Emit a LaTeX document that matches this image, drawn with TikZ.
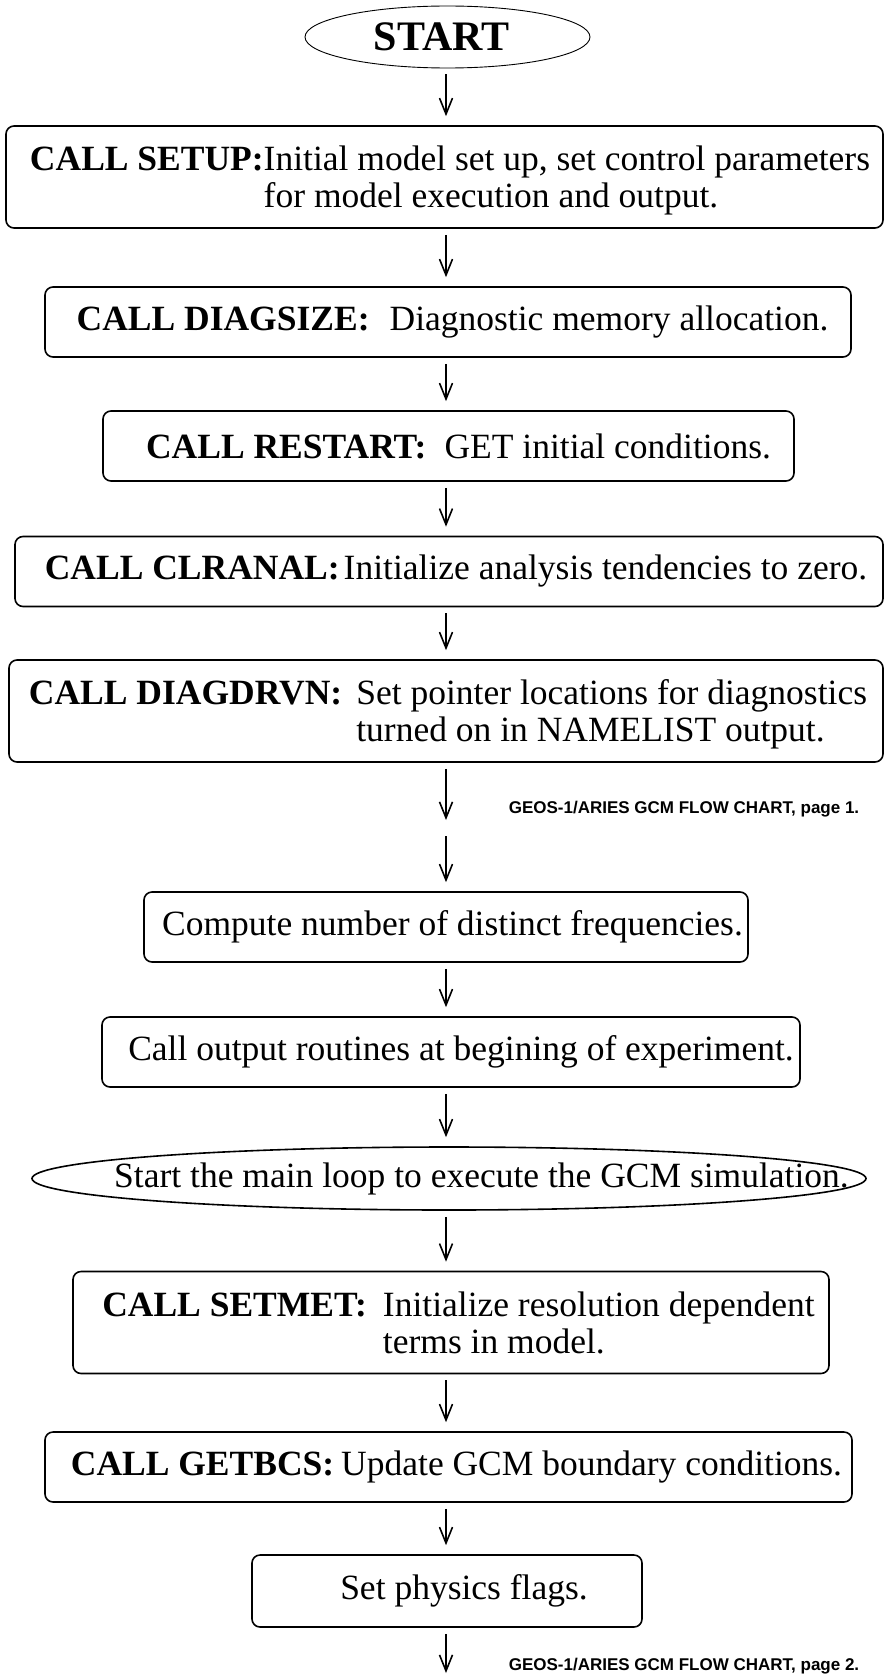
\documentclass[tikz,border=0pt]{standalone}
\usepackage{fontspec}
\setmainfont{Liberation Serif}
\newfontfamily\chartfont{Liberation Sans}
\usetikzlibrary{arrows.meta,shapes.geometric}

\tikzset{
    stepbox/.style={draw, line width=1.6pt, rounded corners=8pt, inner sep=0pt, minimum height=70pt},
    twoline/.style={minimum height=102pt, text depth=39pt},
    flow/.style={line width=1.6pt, -{Straight Barb[length=16pt,width=13pt,line width=1.6pt]}, shorten <=6pt, shorten >=9pt},
    pagenote/.style={font=\chartfont\bfseries\fontsize{17}{19}\selectfont, inner sep=0pt}
}
\newcommand{\boxtext}[2]{\makebox[0pt]{\hspace*{#1}#2}}

\begin{document}
\begin{tikzpicture}[x=1pt, y=-1pt, font=\fontsize{35.5}{37.4}\selectfont]
    \useasboundingbox (0,0) rectangle (886,1675);
    %Define the spine the arrows run on
    \coordinate (spine) at (446,0);

    % Add the start oval
    \node[draw, ellipse, line width=0.9pt, minimum width=285pt, minimum height=62pt, inner sep=0pt] (start) at (447.5,37) {\boxtext{-12pt}{\fontsize{42}{42}\selectfont\bfseries START}};

    % Add the first page of calls
    \node[stepbox, twoline, minimum width=877pt] (setup) at (444.5,177) {\boxtext{11pt}{\textbf{CALL SETUP:}\begin{tabular}[t]{@{}l@{}}Initial model set up, set control parameters\\for model execution and output.\end{tabular}}};
    \node[stepbox, minimum width=806pt] (diagsize) at (448,322) {\boxtext{9pt}{\textbf{CALL DIAGSIZE:}\hspace{20pt}Diagnostic memory allocation.}};
    \node[stepbox, minimum width=691pt] (restart) at (448.5,446) {\boxtext{20pt}{\textbf{CALL RESTART:}\hspace{18pt}GET initial conditions.}};
    \node[stepbox, minimum width=868pt] (clranal) at (449,571.5) {\boxtext{14pt}{\textbf{CALL CLRANAL:}\hspace{4pt}Initialize analysis tendencies to zero.}};
    \node[stepbox, twoline, minimum width=874pt] (diagdrvn) at (446,711) {\boxtext{4pt}{\textbf{CALL DIAGDRVN:}\hspace{14pt}\begin{tabular}[t]{@{}l@{}}Set pointer locations for diagnostics\\turned on in NAMELIST output.\end{tabular}}};

    % Add the page break
    \coordinate (brk1) at (446,820);
    \coordinate (brk2) at (446,836);
    \node[pagenote] (pagea) at (684,809) {GEOS-1/ARIES GCM FLOW CHART, page 1.};

    % Add the second page of steps
    \node[stepbox, minimum width=604pt] (compute) at (446,927) {\boxtext{13pt}{Compute number of distinct frequencies.}};
    \node[stepbox, minimum width=698pt] (output) at (451,1052) {\boxtext{20pt}{Call output routines at begining of experiment.}};
    \node[draw, ellipse, line width=1.6pt, minimum width=834pt, minimum height=63pt, inner sep=0pt] (loop) at (449,1178.5) {\boxtext{65pt}{Start the main loop to execute the GCM simulation.}};
    \node[stepbox, twoline, minimum width=756pt] (setmet) at (451,1322.5) {\boxtext{15pt}{\textbf{CALL SETMET:}\hspace{16pt}\begin{tabular}[t]{@{}l@{}}Initialize resolution dependent\\terms in model.\end{tabular}}};
    \node[stepbox, minimum width=807pt] (getbcs) at (448.5,1467) {\boxtext{16pt}{\textbf{CALL GETBCS:}\hspace{7pt}Update GCM boundary conditions.}};
    \node[stepbox, minimum width=390pt, minimum height=72pt] (physics) at (447,1591) {\boxtext{34pt}{Set physics flags.}};

    % Add the end of page two
    \coordinate (bottom) at (446,1673);
    \node[pagenote] (pageb) at (684,1666) {GEOS-1/ARIES GCM FLOW CHART, page 2.};

    % Add the arrows between the steps
    \draw[flow] (start.south -| spine) -- (setup.north -| spine);
    \draw[flow] (setup.south -| spine) -- (diagsize.north -| spine);
    \draw[flow] (diagsize.south -| spine) -- (restart.north -| spine);
    \draw[flow] (restart.south -| spine) -- (clranal.north -| spine);
    \draw[flow] (clranal.south -| spine) -- (diagdrvn.north -| spine);
    \draw[flow, shorten >=0pt] (diagdrvn.south -| spine) -- (brk1);
    \draw[flow, shorten <=0pt] (brk2) -- (compute.north -| spine);
    \draw[flow] (compute.south -| spine) -- (output.north -| spine);
    \draw[flow] (output.south -| spine) -- (loop.north -| spine);
    \draw[flow] (loop.south -| spine) -- (setmet.north -| spine);
    \draw[flow] (setmet.south -| spine) -- (getbcs.north -| spine);
    \draw[flow] (getbcs.south -| spine) -- (physics.north -| spine);
    \draw[flow, shorten >=0pt] (physics.south -| spine) -- (bottom);
\end{tikzpicture}
\end{document}
